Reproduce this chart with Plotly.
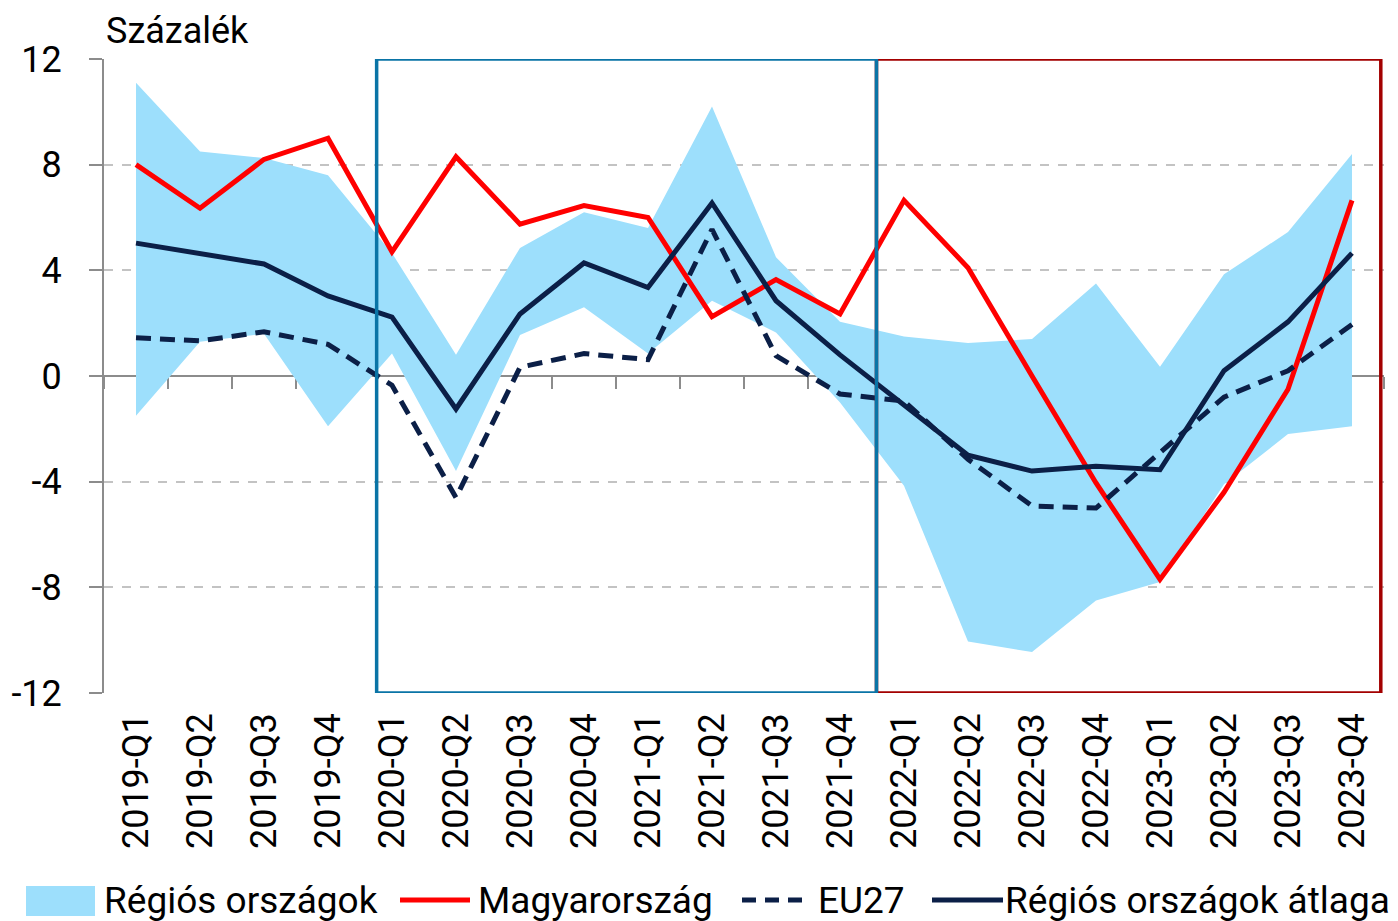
import plotly.graph_objects as go

# ---- data ----
quarters = ["2019-Q1", "2019-Q2", "2019-Q3", "2019-Q4",
            "2020-Q1", "2020-Q2", "2020-Q3", "2020-Q4",
            "2021-Q1", "2021-Q2", "2021-Q3", "2021-Q4",
            "2022-Q1", "2022-Q2", "2022-Q3", "2022-Q4",
            "2023-Q1", "2023-Q2", "2023-Q3", "2023-Q4"]

band_upper = [11.1, 8.5, 8.25, 7.6, 4.65, 0.8, 4.85, 6.2, 5.6, 10.2,
              4.5, 2.05, 1.5, 1.25, 1.4, 3.5, 0.35, 3.85, 5.45, 8.4]
band_lower = [-1.5, 1.3, 1.6, -1.9, 0.85, -3.6, 1.55, 2.6, 0.85, 2.85,
              1.65, -1.0, -4.15, -10.05, -10.45, -8.5, -7.8, -4.1, -2.2, -1.9]
hungary = [8.0, 6.35, 8.2, 9.0, 4.7, 8.3, 5.75, 6.45, 6.0, 2.25,
           3.65, 2.35, 6.65, 4.1, 0.0, -4.05, -7.7, -4.4, -0.5, 6.65]
eu27 = [1.45, 1.33, 1.67, 1.2, -0.35, -4.6, 0.33, 0.85, 0.62, 5.55,
        0.77, -0.68, -0.95, -3.15, -4.92, -5.0, -2.9, -0.8, 0.2, 1.95]
region_avg = [5.03, 4.65, 4.24, 3.03, 2.23, -1.25, 2.35, 4.28, 3.35, 6.55,
              2.85, 0.8, -1.1, -3.0, -3.6, -3.42, -3.55, 0.2, 2.05, 4.65]

y_ticks = [-12, -8, -4, 0, 4, 8, 12]
legend_names = ["Régiós országok", "Magyarország", "EU27", "Régiós országok átlaga"]

# ---- style ----
FONT = "Roboto"
BAND_C = "#9DDFFC"
RED_C = "#FF0000"
NAVY_C = "#0B1F47"
AXIS_C = "#8C8C8C"
GRID_C = "#C3C3C3"
BLUE_BOX = "#0A74A6"
RED_BOX = "#A30000"

OFF = 8  # page body margin offset
W, H = 1398 - OFF, 921 - OFF
L, T = 104 - OFF, 59 - OFF
PW, PH = 1280, 634
R = W - L - PW
B = H - T - PH


def px_x(px):
    return (px - OFF - L) / PW


def px_y(py):
    return (T + PH - (py - OFF)) / PH


fig = go.Figure()

# band (lower invisible, upper filled)
fig.add_trace(go.Scatter(x=quarters, y=band_lower, mode="lines",
                         line=dict(width=0, color=BAND_C), showlegend=False,
                         hoverinfo="skip", xaxis="x", yaxis="y"))
fig.add_trace(go.Scatter(x=quarters, y=band_upper, mode="lines", fill="tonexty",
                         fillcolor=BAND_C, line=dict(width=0, color=BAND_C),
                         name=legend_names[0], showlegend=False,
                         xaxis="x", yaxis="y"))

# lines (on overlay axis so the zero axis line sits above the band)
fig.add_trace(go.Scatter(x=quarters, y=hungary, mode="lines",
                         line=dict(color=RED_C, width=5), name=legend_names[1],
                         showlegend=False, xaxis="x2", yaxis="y"))
fig.add_trace(go.Scatter(x=quarters, y=eu27, mode="lines",
                         line=dict(color=NAVY_C, width=5, dash="15px,9px"),
                         name=legend_names[2], showlegend=False,
                         xaxis="x2", yaxis="y"))
fig.add_trace(go.Scatter(x=quarters, y=region_avg, mode="lines",
                         line=dict(color=NAVY_C, width=5), name=legend_names[3],
                         showlegend=False, xaxis="x2", yaxis="y"))

n = len(quarters)
xrange = [-0.5, n - 0.5]

shapes = [
    dict(type="rect", xref="x", yref="y", x0=11.57, x1=19.45, y0=-12, y1=12,
         line=dict(color=RED_BOX, width=3.5), layer="above"),
    dict(type="rect", xref="x", yref="y", x0=3.76, x1=11.57, y0=-12, y1=12,
         line=dict(color=BLUE_BOX, width=3.5), layer="above"),
]

# manual legend
leg_y = 900
shapes.append(dict(type="rect", xref="paper", yref="paper",
                   x0=px_x(26), x1=px_x(95), y0=px_y(916), y1=px_y(886),
                   fillcolor=BAND_C, line=dict(width=0)))
shapes.append(dict(type="line", xref="paper", yref="paper",
                   x0=px_x(400), x1=px_x(470), y0=px_y(leg_y), y1=px_y(leg_y),
                   line=dict(color=RED_C, width=5)))
shapes.append(dict(type="line", xref="paper", yref="paper",
                   x0=px_x(742), x1=px_x(805), y0=px_y(leg_y), y1=px_y(leg_y),
                   line=dict(color=NAVY_C, width=5, dash="14px,9px")))
shapes.append(dict(type="line", xref="paper", yref="paper",
                   x0=px_x(932), x1=px_x(1003), y0=px_y(leg_y), y1=px_y(leg_y),
                   line=dict(color=NAVY_C, width=5)))

annotations = [
    dict(text="Százalék", xref="paper", yref="paper", x=px_x(104), y=px_y(31),
         xanchor="left", yanchor="middle", showarrow=False,
         font=dict(family=FONT, size=36, color="black")),
]
for label, left in zip(legend_names, [102, 476, 816, 1003]):
    annotations.append(dict(text=label, xref="paper", yref="paper",
                            x=px_x(left), y=px_y(leg_y), xanchor="left",
                            yanchor="middle", showarrow=False,
                            font=dict(family=FONT, size=37, color="black")))

fig.update_layout(
    width=W, height=H,
    margin=dict(l=L, r=R, t=T, b=B, autoexpand=False),
    plot_bgcolor="white", paper_bgcolor="white",
    font=dict(family=FONT, size=36, color="black"),
    showlegend=False,
    xaxis=dict(type="category", categoryorder="array", categoryarray=quarters,
               range=xrange, showline=False, ticks="", showgrid=False,
               tickangle=-90, ticklabelstandoff=12, zeroline=False,
               automargin=False,
               tickfont=dict(family=FONT, size=36, color="black")),
    xaxis2=dict(type="category", categoryorder="array", categoryarray=quarters,
                range=xrange, overlaying="x", anchor="free", position=0.5,
                side="bottom", showline=True, linecolor=AXIS_C, linewidth=2,
                ticks="outside", tickson="boundaries", ticklen=12,
                tickwidth=2, tickcolor=AXIS_C, showticklabels=False,
                showgrid=False, zeroline=False, layer="below traces",
                automargin=False),
    yaxis=dict(range=[-12, 12], tickvals=y_ticks,
               ticktext=[str(v) for v in y_ticks],
               showline=True, linecolor=AXIS_C, linewidth=2,
               ticks="outside", ticklen=13, tickwidth=2, tickcolor=AXIS_C,
               showgrid=True, gridcolor=GRID_C, griddash="dash", gridwidth=1.5,
               zeroline=False, ticklabelstandoff=20, automargin=False,
               tickfont=dict(family=FONT, size=36, color="black")),
    shapes=shapes,
    annotations=annotations,
)

fig.write_html("out.html")
